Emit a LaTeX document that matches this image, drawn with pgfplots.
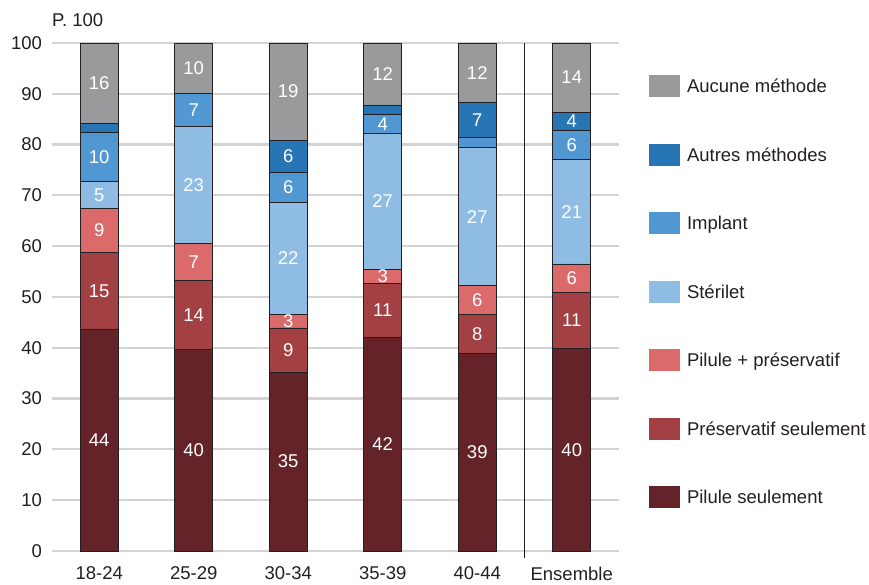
\documentclass[border=0pt]{standalone}
\usepackage{pgfplots}
\pgfplotsset{compat=1.18}
\usepackage{pgfplotstable}
\usepackage{fontspec}
\setmainfont{Liberation Sans}

\definecolor{cAucune}{RGB}{153,154,156}
\definecolor{cAutres}{RGB}{39,117,181}
\definecolor{cImplant}{RGB}{81,151,210}
\definecolor{cSterilet}{RGB}{142,188,226}
\definecolor{cPilPres}{RGB}{219,106,106}
\definecolor{cPreserv}{RGB}{163,64,68}
\definecolor{cPilule}{RGB}{99,35,40}
\definecolor{cGrid}{RGB}{211,211,211}
\definecolor{cText}{RGB}{35,31,32}

\newcommand\fs{\fontsize{18.5}{22}\selectfont}

% Age groups at x = 0..4, "Ensemble" at x = 5 (values in %)
\pgfplotstableread{
x  pilule preserv pilpres sterilet implant autres aucune
0  43.7   15.0    8.8     5.2      9.7     1.7    15.9
1  39.6   13.6    7.4     22.9     6.6     0.0    9.9
2  35.2   8.7     2.7     22.0     6.0     6.3    19.1
3  42.0   10.7    2.8     26.8     3.6     1.8    12.3
4  38.9   7.7     5.6     27.2     2.0     6.9    11.7
5  39.8   11.1    5.6     20.6     5.7     3.6    13.6
}\contra

\begin{document}
\begin{tikzpicture}
\begin{axis}[
  name=ax,
  scale only axis, width=567pt, height=508pt,
  ybar stacked, bar width=38pt,
  xmin=-0.5, xmax=5.5, ymin=0, ymax=100,
  xtick={0,...,5},
  xticklabels={18-24,25-29,30-34,35-39,40-44,Ensemble},
  ytick={0,10,...,100},
  ymajorgrids, grid style={cGrid, line width=2.2pt},
  axis line style={draw=none}, major tick length=0pt,
  /pgf/number format/assume math mode=true,
  tick label style={font=\fs, text=cText},
  xticklabel style={yshift=-12.5pt},
  yticklabel style={xshift=-6.5pt},
  clip=false,
  every axis plot/.append style={draw=cText, line width=0.8pt},
  point meta=explicit symbolic,
  nodes near coords={\ifdim\pgfplotspointmeta pt<2.5pt\else\pgfmathprintnumber[fixed,precision=0]{\pgfplotspointmeta}\fi},
  every node near coord/.append style={text=white, font=\fs, anchor=center},
  every axis plot post/.append style={
    legend image code/.code={\fill[##1,draw=none] (0pt,-11pt) rectangle (31pt,11pt);}},
  reverse legend,
  legend cell align=left,
  legend style={at={(1.0529,0.937)}, anchor=north west, draw=none, fill=none,
    inner sep=0pt, outer sep=0pt, row sep=46.5pt, column sep=7pt,
    font=\fs, text=cText,
    nodes={inner sep=0pt, text height=13.3pt, text depth=0pt}},
]
\addplot[fill=cPilule]   table[x=x, y=pilule,   meta=pilule]   {\contra};
\addplot[fill=cPreserv]  table[x=x, y=preserv,  meta=preserv]  {\contra};
\addplot[fill=cPilPres]  table[x=x, y=pilpres,  meta=pilpres]  {\contra};
\addplot[fill=cSterilet] table[x=x, y=sterilet, meta=sterilet] {\contra};
\addplot[fill=cImplant]  table[x=x, y=implant,  meta=implant]  {\contra};
\addplot[fill=cAutres]   table[x=x, y=autres,   meta=autres]   {\contra};
\addplot[fill=cAucune]   table[x=x, y=aucune,   meta=aucune]   {\contra};
\legend{Pilule seulement, Préservatif seulement, Pilule + préservatif,
  Stérilet, Implant, Autres méthodes, Aucune méthode}

% separator between the age groups and the overall bar
\draw[cText, line width=0.9pt] (axis cs:4.5,100) -- (axis cs:4.5,-1.4);
\node[anchor=base west, font=\fs, text=cText, inner sep=0pt]
  at ([yshift=16pt]rel axis cs:0,1) {P. 100};
\end{axis}
\pgfresetboundingbox
\path[use as bounding box] ([xshift=-52pt,yshift=-34pt]ax.south west)
  rectangle ([xshift=817pt,yshift=551pt]ax.south west);
\end{tikzpicture}
\end{document}
